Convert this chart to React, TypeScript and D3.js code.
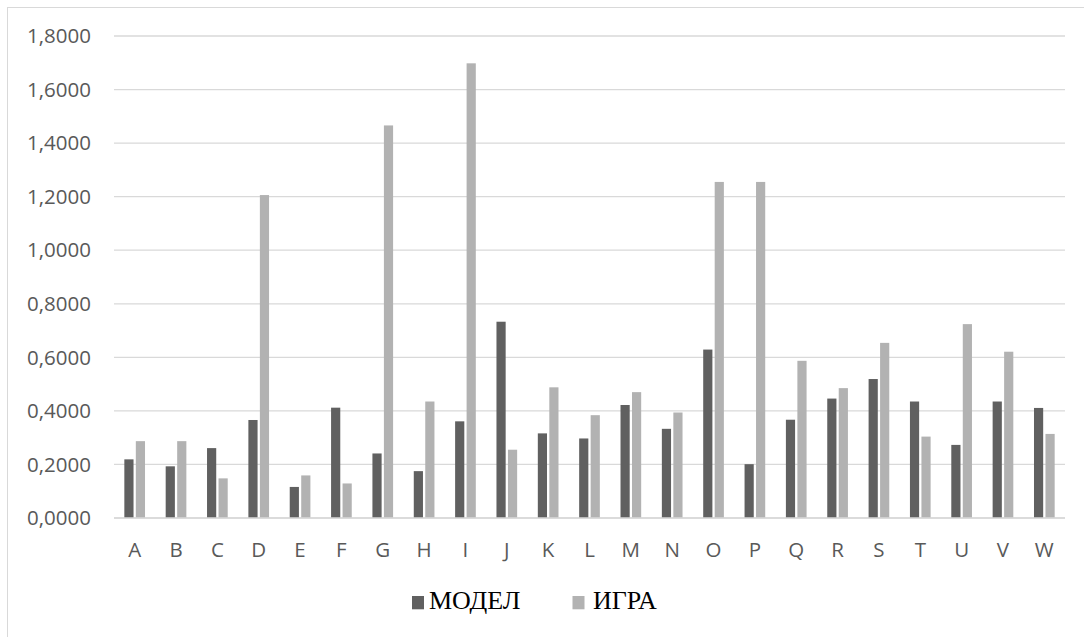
import React from "react";
import * as d3 from "d3";

const categories = ["A","B","C","D","E","F","G","H","I","J","K","L","M","N","O","P","Q","R","S","T","U","V","W"];
const seriesNames = ["МОДЕЛ", "ИГРА"];
const modelValues = [0.219,0.193,0.261,0.366,0.116,0.412,0.241,0.175,0.361,0.733,0.316,0.297,0.422,0.333,0.629,0.201,0.367,0.446,0.519,0.435,0.273,0.435,0.411];
const igraValues = [0.287,0.287,0.148,1.206,0.159,0.129,1.466,0.435,1.698,0.255,0.488,0.384,0.470,0.394,1.255,1.255,0.587,0.485,0.654,0.304,0.724,0.621,0.314];
const yTicks = [0,0.2,0.4,0.6,0.8,1.0,1.2,1.4,1.6,1.8];
const colors = ["#606060", "#b2b2b2"];

export default function App() {
  const W = 1084, H = 637;
  const left = 114, right = 1065, top = 36, bottom = 518;
  const x0 = d3.scaleBand<string>().domain(categories).range([left, right]).paddingInner(0.5).paddingOuter(0.25);
  const x1 = d3.scaleBand<string>().domain(seriesNames).range([0, x0.bandwidth()]).paddingInner(0.2);
  const y = d3.scaleLinear().domain([0, 1.8]).range([bottom, top]);
  const fmt = (v: number) => v.toFixed(4).replace(".", ",");
  const series = [modelValues, igraValues];
  const font = "'Open Sans', sans-serif";
  return (
    <svg width={W} height={H} style={{ position: "absolute", left: 0, top: 0, background: "#fff" }}>
      <rect x={7.5} y={7.5} width={W + 10} height={H + 10} fill="#fff" stroke="#d9d9d9" strokeWidth={1} />
      {yTicks.map((t) => (
        <g key={t}>
          <line x1={left} x2={right} y1={y(t)} y2={y(t)} stroke="#d9d9d9" strokeWidth={1.3} />
          <text x={91} y={y(t)} dy="0.35em" textAnchor="end" fontFamily={font} fontSize={20.5} fill="#595959">{fmt(t)}</text>
        </g>
      ))}
      {categories.map((c, i) => (
        <g key={c}>
          {series.map((vals, s) => (
            <rect key={s} x={(x0(c) as number) + (x1(seriesNames[s]) as number)} y={y(vals[i])}
              width={x1.bandwidth()} height={bottom - y(vals[i])} fill={colors[s]} />
          ))}
          <text x={(x0(c) as number) + x0.bandwidth() / 2} y={557} textAnchor="middle" fontFamily={font} fontSize={20.5} fill="#595959">{c}</text>
        </g>
      ))}
      <line x1={left} x2={right} y1={bottom} y2={bottom} stroke="#d9d9d9" strokeWidth={1.3} />
      {[{ sx: 412, tx: 429 }, { sx: 572.5, tx: 593 }].map((l, s) => (
        <g key={s}>
          <rect x={l.sx} y={596} width={12} height={13.3} fill={colors[s]} />
          <text x={l.tx} y={609.3} fontFamily="'Liberation Serif', 'Times New Roman', serif" fontSize={26} fill="#000">{seriesNames[s]}</text>
        </g>
      ))}
    </svg>
  );
}
